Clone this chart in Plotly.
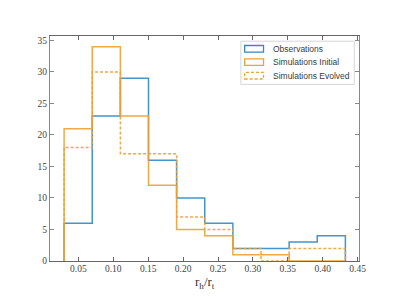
import plotly.graph_objects as go

# ---- data ----
bin_edges = [0.0295, 0.0698, 0.1101, 0.1504, 0.1907, 0.2310, 0.2713, 0.3116, 0.3519, 0.3922, 0.4325]
observations = [6, 23, 29, 16, 10, 6, 2, 2, 3, 4]
sim_initial = [21, 34, 23, 12, 5, 4, 1, 1, 0, 0]
sim_evolved = [18, 30, 17, 17, 7, 5, 2, 0, 2, 2]
series_names = ["Observations", "Simulations Initial", "Simulations Evolved"]
x_ticks = [0.05, 0.10, 0.15, 0.20, 0.25, 0.30, 0.35, 0.40, 0.45]
y_ticks = [0, 5, 10, 15, 20, 25, 30, 35]

BLUE = "#2f8ac6"
ORANGE = "#eea134"


def step_path(edges, counts):
    xs = [edges[0]]
    ys = [0]
    for i, c in enumerate(counts):
        xs += [edges[i], edges[i + 1]]
        ys += [c, c]
    xs.append(edges[-1])
    ys.append(0)
    return xs, ys


fig = go.Figure()
styles = [
    (observations, BLUE, "solid"),
    (sim_initial, ORANGE, "solid"),
    (sim_evolved, ORANGE, "dash"),
]
for (vals, col, dash), name in zip(styles, series_names):
    xs, ys = step_path(bin_edges, vals)
    fig.add_trace(go.Scatter(x=xs, y=ys, mode="lines", name=name,
                             line=dict(color=col, width=1.5, dash="3px,2px" if dash == "dash" else "solid"),
                             opacity=0.9, showlegend=False, hoverinfo="skip"))

# page offset (body margin) and plot area geometry (pixels in window)
OFF = 8
L, R, T, B = 50, 358.7, 35.5, 261
W, H = 399 - OFF, 299 - OFF
pw, ph = R - L, B - T


def px(x):
    return (x - L) / pw


def py(y):
    return (B - y) / ph


shapes = []
annotations = []
# legend box
shapes.append(dict(type="rect", xref="paper", yref="paper",
                   x0=px(240.7), x1=px(354), y0=py(84), y1=py(40.7),
                   line=dict(color="#d6d6d6", width=1), fillcolor="rgba(255,255,255,0.85)",
                   layer="above"))
rows = [48.3, 61.7, 75.3]
for (vals, col, dash), name, ry in zip(styles, series_names, rows):
    shapes.append(dict(type="rect", xref="paper", yref="paper",
                       x0=px(244.5), x1=px(263.3), y0=py(ry + 3.3), y1=py(ry - 3.3),
                       line=dict(color=col, width=1.3, dash="3px,2px" if dash == "dash" else "solid"),
                       fillcolor="rgba(0,0,0,0)", layer="above"))
    annotations.append(dict(xref="paper", yref="paper", x=px(270.5), y=py(ry),
                            text=name, showarrow=False, xanchor="left", yanchor="middle",
                            font=dict(family="Liberation Sans", size=8.5, color="#3a3a3a")))

# x label
annotations.append(dict(xref="paper", yref="paper", x=px(204.5), y=py(282.5),
                        text="r<sub>h</sub>/r<sub>t</sub>", showarrow=False,
                        xanchor="center", yanchor="middle",
                        font=dict(family="Liberation Serif", size=13, color="#333333")))

fig.update_layout(
    width=W, height=H,
    margin=dict(l=L - OFF, r=399 - R, t=T - OFF, b=299 - B, pad=0),
    paper_bgcolor="white", plot_bgcolor="white",
    shapes=shapes, annotations=annotations,
    font=dict(family="Liberation Serif", size=9.5, color="#444444"),
)
fig.update_xaxes(range=[0.0093, 0.452], tickvals=x_ticks,
                 ticktext=[f"{v:.2f}" for v in x_ticks],
                 showgrid=False, zeroline=False, showline=True, linecolor="#666666", linewidth=1.2,
                 mirror="allticks", ticks="inside", ticklen=4, tickcolor="#666666", tickwidth=1,
                 ticklabelstandoff=-2)
fig.update_yaxes(range=[0, 35.7], tickvals=y_ticks,
                 showgrid=False, zeroline=False, showline=True, linecolor="#888888", linewidth=1.2,
                 mirror="allticks", ticks="inside", ticklen=4, tickcolor="#888888", tickwidth=1)

fig.write_html("out.html")
